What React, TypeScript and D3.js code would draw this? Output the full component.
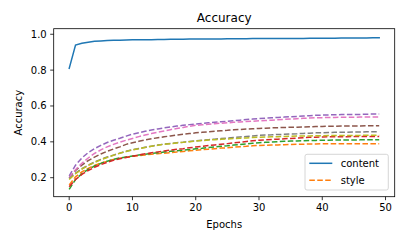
import * as d3 from 'd3'

const W = 407
const H = 244
const BOX = { left: 53.7, right: 394.7, top: 28.7, bottom: 196.7 }

const epochs = d3.range(0, 50)

const content = [
  0.81, 0.94, 0.95, 0.956, 0.961, 0.963, 0.965, 0.966, 0.967, 0.968,
  0.969, 0.969, 0.97, 0.97, 0.971, 0.971, 0.972, 0.972, 0.972, 0.973,
  0.973, 0.973, 0.974, 0.974, 0.974, 0.975, 0.975, 0.975, 0.975, 0.976,
  0.976, 0.976, 0.976, 0.977, 0.977, 0.977, 0.977, 0.977, 0.978, 0.978,
  0.978, 0.978, 0.978, 0.979, 0.979, 0.979, 0.979, 0.979, 0.98, 0.98,
]

const styleOrange = [
  0.16, 0.205, 0.232, 0.252, 0.268, 0.281, 0.292, 0.301, 0.308, 0.314,
  0.319, 0.323, 0.327, 0.331, 0.334, 0.337, 0.34, 0.343, 0.346, 0.35,
  0.353, 0.356, 0.359, 0.362, 0.365, 0.367, 0.37, 0.373, 0.375, 0.378,
  0.38, 0.381, 0.382, 0.383, 0.384, 0.385, 0.386, 0.387, 0.388, 0.388,
  0.389, 0.389, 0.389, 0.39, 0.39, 0.39, 0.39, 0.39, 0.39, 0.39,
]

const styleGreen = [
  0.135, 0.19, 0.222, 0.246, 0.265, 0.28, 0.292, 0.302, 0.31, 0.316,
  0.321, 0.326, 0.331, 0.335, 0.339, 0.343, 0.347, 0.35, 0.354, 0.357,
  0.361, 0.364, 0.368, 0.371, 0.375, 0.378, 0.382, 0.385, 0.389, 0.392,
  0.395, 0.397, 0.399, 0.401, 0.403, 0.404, 0.405, 0.406, 0.407, 0.408,
  0.409, 0.409, 0.41, 0.41, 0.41, 0.41, 0.411, 0.411, 0.411, 0.411,
]

const styleRed = [
  0.15, 0.19, 0.218, 0.24, 0.258, 0.273, 0.286, 0.297, 0.306, 0.313,
  0.32, 0.327, 0.333, 0.339, 0.344, 0.349, 0.354, 0.358, 0.362, 0.367,
  0.371, 0.375, 0.379, 0.383, 0.387, 0.39, 0.394, 0.398, 0.402, 0.406,
  0.409, 0.411, 0.413, 0.415, 0.417, 0.419, 0.421, 0.423, 0.425, 0.426,
  0.427, 0.428, 0.428, 0.429, 0.429, 0.43, 0.43, 0.43, 0.43, 0.43,
]

const stylePurple = [
  0.21, 0.27, 0.31, 0.34, 0.362, 0.38, 0.396, 0.409, 0.42, 0.432,
  0.443, 0.451, 0.459, 0.466, 0.472, 0.478, 0.483, 0.488, 0.492, 0.496,
  0.499, 0.503, 0.506, 0.509, 0.512, 0.515, 0.518, 0.521, 0.524, 0.527,
  0.53, 0.532, 0.534, 0.536, 0.538, 0.54, 0.542, 0.544, 0.546, 0.548,
  0.549, 0.55, 0.551, 0.552, 0.552, 0.553, 0.553, 0.554, 0.555, 0.555,
]

const styleBrown = [
  0.2, 0.24, 0.27, 0.295, 0.315, 0.332, 0.347, 0.36, 0.372, 0.386,
  0.395, 0.403, 0.41, 0.417, 0.423, 0.428, 0.433, 0.438, 0.442, 0.446,
  0.45, 0.453, 0.456, 0.459, 0.462, 0.464, 0.467, 0.469, 0.471, 0.473,
  0.475, 0.476, 0.478, 0.479, 0.48, 0.481, 0.482, 0.483, 0.484, 0.485,
  0.486, 0.487, 0.487, 0.488, 0.488, 0.489, 0.489, 0.49, 0.49, 0.49,
]

const stylePink = [
  0.2, 0.245, 0.28, 0.31, 0.335, 0.355, 0.372, 0.386, 0.398, 0.409,
  0.419, 0.429, 0.438, 0.446, 0.454, 0.461, 0.468, 0.474, 0.48, 0.487,
  0.492, 0.495, 0.498, 0.501, 0.504, 0.506, 0.509, 0.511, 0.513, 0.515,
  0.517, 0.519, 0.521, 0.523, 0.525, 0.527, 0.529, 0.531, 0.533, 0.534,
  0.535, 0.536, 0.536, 0.537, 0.537, 0.537, 0.538, 0.538, 0.538, 0.538,
]

const styleGray = [
  0.195, 0.225, 0.25, 0.27, 0.287, 0.302, 0.315, 0.326, 0.337, 0.347,
  0.356, 0.363, 0.37, 0.376, 0.382, 0.387, 0.391, 0.395, 0.398, 0.402,
  0.405, 0.409, 0.412, 0.415, 0.418, 0.421, 0.424, 0.427, 0.43, 0.433,
  0.436, 0.438, 0.439, 0.441, 0.442, 0.444, 0.445, 0.447, 0.448, 0.45,
  0.451, 0.452, 0.453, 0.454, 0.454, 0.455, 0.455, 0.456, 0.456, 0.457,
]

const styleOlive = [
  0.19, 0.222, 0.248, 0.268, 0.285, 0.3, 0.313, 0.325, 0.336, 0.346,
  0.355, 0.362, 0.369, 0.375, 0.381, 0.386, 0.39, 0.394, 0.397, 0.401,
  0.404, 0.407, 0.41, 0.412, 0.414, 0.416, 0.418, 0.42, 0.422, 0.424,
  0.426, 0.427, 0.428, 0.429, 0.43, 0.431, 0.432, 0.433, 0.433, 0.434,
  0.434, 0.435, 0.435, 0.435, 0.436, 0.436, 0.436, 0.437, 0.437, 0.437,
]

const styleSeries = [
  { values: styleOrange, color: '#ff7f0e' },
  { values: styleGreen, color: '#2ca02c' },
  { values: styleRed, color: '#d62728' },
  { values: stylePurple, color: '#9467bd' },
  { values: styleBrown, color: '#8c564b' },
  { values: stylePink, color: '#e377c2' },
  { values: styleGray, color: '#7f7f7f' },
  { values: styleOlive, color: '#bcbd22' },
]

const xTicks = [0, 10, 20, 30, 40, 50]
const yTicks = [0.2, 0.4, 0.6, 0.8, 1.0]

const FONT = 'DejaVu Sans, sans-serif'

export default function App() {
  const x = d3.scaleLinear().domain([-2.45, 51.45]).range([BOX.left, BOX.right])
  const y = d3.scaleLinear().domain([0.094, 1.031]).range([BOX.bottom, BOX.top])

  const line = d3
    .line<number>()
    .x((_, i) => x(epochs[i]))
    .y((d) => y(d))

  const dash = '5.55,2.4'

  return (
    <div style={{ position: 'fixed', left: 0, top: 0 }}>
      <svg width={W} height={H} viewBox={`0 0 ${W} ${H}`} style={{ display: 'block', background: '#fff' }}>
        <defs>
          <clipPath id="plot">
            <rect x={BOX.left} y={BOX.top} width={BOX.right - BOX.left} height={BOX.bottom - BOX.top} />
          </clipPath>
        </defs>

        <g clipPath="url(#plot)" fill="none" strokeWidth={1.5}>
          <path d={line(content) ?? ''} stroke="#1f77b4" strokeLinecap="square" />
          {styleSeries.map((s, i) => (
            <path key={i} d={line(s.values) ?? ''} stroke={s.color} strokeDasharray={dash} />
          ))}
        </g>

        <rect
          x={BOX.left}
          y={BOX.top}
          width={BOX.right - BOX.left}
          height={BOX.bottom - BOX.top}
          fill="none"
          stroke="#000"
          strokeWidth={0.8}
        />

        {xTicks.map((t) => (
          <g key={t} transform={`translate(${x(t)},${BOX.bottom})`}>
            <line y2={3.5} stroke="#000" strokeWidth={0.8} />
            <text y={14} textAnchor="middle" fontFamily={FONT} fontSize={10} fill="#000">
              {t}
            </text>
          </g>
        ))}

        {yTicks.map((t) => (
          <g key={t} transform={`translate(${BOX.left},${y(t)})`}>
            <line x2={-3.5} stroke="#000" strokeWidth={0.8} />
            <text x={-7} dy="0.35em" textAnchor="end" fontFamily={FONT} fontSize={10} fill="#000">
              {t.toFixed(1)}
            </text>
          </g>
        ))}

        <text
          x={(BOX.left + BOX.right) / 2}
          y={22}
          textAnchor="middle"
          fontFamily={FONT}
          fontSize={12}
          fill="#000"
        >
          Accuracy
        </text>
        <text
          x={(BOX.left + BOX.right) / 2}
          y={228}
          textAnchor="middle"
          fontFamily={FONT}
          fontSize={10}
          fill="#000"
        >
          Epochs
        </text>
        <text
          transform={`translate(21.5,${(BOX.top + BOX.bottom) / 2}) rotate(-90)`}
          textAnchor="middle"
          fontFamily={FONT}
          fontSize={10}
          fill="#000"
        >
          Accuracy
        </text>

        <g transform="translate(305,154.3)">
          <rect width={83.3} height={35.7} rx={2} fill="#fff" fillOpacity={0.8} stroke="#ccc" strokeWidth={0.8} />
          <line x1={4.3} x2={27.3} y1={9} y2={9} stroke="#1f77b4" strokeWidth={1.5} />
          <text x={35.7} y={9} dy="0.35em" fontFamily={FONT} fontSize={10} fill="#000">
            content
          </text>
          <line x1={4.3} x2={27.3} y1={26} y2={26} stroke="#ff7f0e" strokeWidth={1.5} strokeDasharray={dash} />
          <text x={35.7} y={26} dy="0.35em" fontFamily={FONT} fontSize={10} fill="#000">
            style
          </text>
        </g>
      </svg>
    </div>
  )
}
